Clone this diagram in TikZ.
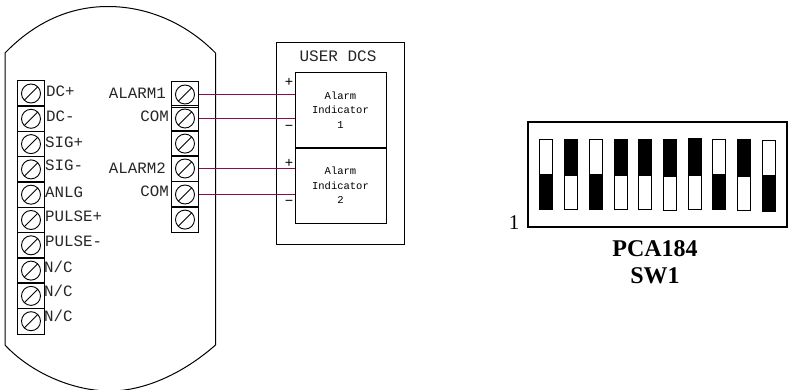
\documentclass[tikz,border=0pt]{standalone}
\usepackage{fontspec}
\setmainfont{Liberation Serif}
\newfontfamily\wiringfont{Liberation Mono}
\definecolor{wirecolor}{HTML}{8B0A50}
\tikzset{
  terminal/.style={draw,rectangle,line width=1pt,minimum width=26.5pt,minimum height=25.8pt,inner sep=0pt,
    path picture={\draw[line width=0.9pt] (path picture bounding box.center) circle (9.5pt);
      \draw[line width=0.9pt] ([shift={(-6.7pt,-6.7pt)}]path picture bounding box.center) -- ([shift={(6.7pt,6.7pt)}]path picture bounding box.center);}},
  leftlabel/.style={anchor=west,inner sep=0pt,text height=9pt,text depth=0pt,font=\wiringfont\fontsize{15.8}{16}\selectfont,text=black!85},
  rightlabel/.style={leftlabel,anchor=east},
  indicator/.style={draw,rectangle,line width=0.9pt,minimum width=91pt,minimum height=75.5pt,inner sep=0pt,align=center,
    font=\wiringfont\fontsize{10.5}{14.5}\selectfont},
  polarity/.style={inner sep=0pt,font=\wiringfont\fontsize{14}{14}\selectfont},
  swup/.style={draw,rectangle,line width=1.1pt,minimum width=13pt,minimum height=70.5pt,inner sep=0pt,
    path picture={\fill ([yshift=0.5pt]path picture bounding box.west) rectangle (path picture bounding box.south east);}},
  swdown/.style={draw,rectangle,line width=1.1pt,minimum width=13pt,minimum height=70.5pt,inner sep=0pt,
    path picture={\fill ([yshift=-2pt]path picture bounding box.west) rectangle (path picture bounding box.north east);}},
  wire/.style={draw=wirecolor,line width=1.2pt}
}
\begin{document}
\begin{tikzpicture}[x=1pt,y=-1pt]
\useasboundingbox (0,0) rectangle (788,390);
\draw[line width=1pt] (5,53) .. controls (35,22) and (70,6.5) .. (108,6.5) .. controls (146,6.5) and (185,22) .. (215.5,53) -- (215.5,345)
  .. controls (185,372) and (146,391) .. (110,391) .. controls (72,391) and (30,372) .. (5,345) -- cycle;
\node[terminal] (l1)  at (31,93.5)  {};
\node[terminal] (l2)  at (31,118.8) {};
\node[terminal] (l3)  at (31,144.1) {};
\node[terminal] (l4)  at (31,169.4) {};
\node[terminal] (l5)  at (31,194.7) {};
\node[terminal] (l6)  at (31,220)   {};
\node[terminal] (l7)  at (31,245.3) {};
\node[terminal] (l8)  at (31,270.6) {};
\node[terminal] (l9)  at (31,295.9) {};
\node[terminal] (l10) at (31,321.2) {};
\node[terminal] (r1)  at (185,94.5)  {};
\node[terminal] (r2)  at (185,118.5) {};
\node[terminal] (r3)  at (185,143.6) {};
\node[terminal] (r4)  at (185,168.5) {};
\node[terminal] (r5)  at (185,194.5) {};
\node[terminal] (r6)  at (185,219.6) {};
\node[leftlabel] at (46,92)    {DC+};
\node[leftlabel] at (46,116.7) {DC-};
\node[leftlabel] at (45,142.7) {SIG+};
\node[leftlabel] at (45,165.7) {SIG-};
\node[leftlabel] at (45,192.7) {ANLG};
\node[leftlabel] at (45,217)   {PULSE+};
\node[leftlabel] at (45,242)   {PULSE-};
\node[leftlabel] at (44,267.7) {N/C};
\node[leftlabel] at (44,292)   {N/C};
\node[leftlabel] at (44,316.7) {N/C};
\node[rightlabel] at (166,94)  {ALARM1};
\node[rightlabel] at (169,117) {COM};
\node[rightlabel] at (166,169) {ALARM2};
\node[rightlabel] at (169,192) {COM};
\node[draw,rectangle,line width=1pt,minimum width=128pt,minimum height=202pt] (dcs) at (340,144) {};
\node[inner sep=0pt,font=\wiringfont\fontsize{16}{16}\selectfont,text=black!85] at (338,56) {USER DCS};
\node[indicator] (ind1) at (340.5,110) {Alarm\\Indicator\\1};
\node[indicator] (ind2) at (340.5,185.5) {Alarm\\Indicator\\2};
\draw[line width=1.6pt] (ind1.south west) -- (ind1.south east);
\node[polarity] at (289,82)  {+};
\node[polarity] at (289,128) {−};
\node[polarity] at (289,163) {+};
\node[polarity] at (289,203) {−};
\draw[wire] (r1.east) -- (r1.east -| ind1.west);
\draw[wire] (r2.east) -- (r2.east -| ind1.west);
\draw[wire] (r4.east) -- (r4.east -| ind2.west);
\draw[wire] (r5.east) -- (r5.east -| ind2.west);
\node[draw,rectangle,line width=1.4pt,minimum width=259pt,minimum height=105pt] (pca) at (657.5,174.5) {};
\node[swup]   (s1)  at (546,174.5) {};
\node[swdown] (s2)  at (571,174.5) {};
\node[swup]   (s3)  at (596,174.5) {};
\node[swdown] (s4)  at (621,174.5) {};
\node[swdown] (s5)  at (645,174.5) {};
\node[swdown] (s6)  at (670,175)   {};
\node[swdown] (s7)  at (695,174)   {};
\node[swup]   (s8)  at (719,174.5) {};
\node[swdown] (s9)  at (744,175)   {};
\node[swup]   (s10) at (769,176)   {};
\node[inner sep=0pt,font=\fontsize{21}{21}\selectfont] at (514,223) {1};
\node[inner sep=0pt,font=\bfseries\fontsize{24}{27}\selectfont,align=center] at (655,262.5) {PCA184\\SW1};
\end{tikzpicture}
\end{document}
